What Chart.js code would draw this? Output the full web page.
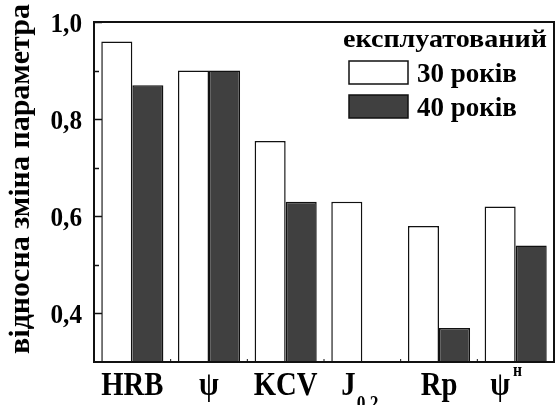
<!DOCTYPE html>
<html>
<head>
<meta charset="utf-8">
<script src="https://cdn.jsdelivr.net/npm/chart.js@4"></script>
<style>
  body { margin: 0; background: #fff; }
  canvas { display: block; }
</style>
</head>
<body>
<canvas id="chart" width="555" height="405"></canvas>
<script>
// data
const categories = ["HRB", "ψ", "KCV", "J", "Rp", "ψ"];
const catSub = ["", "", "", "0,2", "", ""];
const catSup = ["", "", "", "", "", "н"];
const years30 = [0.96, 0.90, 0.755, 0.63, 0.58, 0.62];
const years40 = [0.87, 0.90, 0.63, null, 0.37, 0.54];
const seriesNames = ["30 років", "40 років"];
const legendTitle = "експлуатований";
const yTitle = "відносна зміна параметра";
const yTicks = [0.4, 0.6, 0.8, 1.0];
const yMinorTicks = [0.5, 0.7, 0.9];

const FONT = "'Liberation Serif', 'Times New Roman', serif";
const DARK = "#404040";

// draw a bit of text squeezed along its own direction
function squeezed(ctx, str, x, y, size, sx, align) {
    ctx.save();
    ctx.font = "bold " + size + "px " + FONT;
    ctx.translate(x, y);
    ctx.scale(sx, 1);
    ctx.textAlign = align || "left";
    ctx.textBaseline = "alphabetic";
    ctx.fillText(str, 0, 0);
    ctx.restore();
}

function textW(ctx, str, size, sx) {
    ctx.save();
    ctx.font = "bold " + size + "px " + FONT;
    let w = ctx.measureText(str).width * sx;
    ctx.restore();
    return w;
}

const decorPlugin = {
    id: "decor",
    afterDraw(chart) {
        const ctx = chart.ctx;
        const area = chart.chartArea;
        const xs = chart.scales.x;
        const ys = chart.scales.y;
        ctx.save();
        ctx.fillStyle = "#000";
        ctx.strokeStyle = "#111";

        // frame
        ctx.lineWidth = 2;
        ctx.strokeRect(area.left, area.top, area.right - area.left, area.bottom - area.top);

        // y ticks, inside
        ctx.lineWidth = 1.5;
        yTicks.forEach(v => {
            let py = Math.round(ys.getPixelForValue(v)) + 0.5;
            ctx.beginPath();
            ctx.moveTo(area.left, py);
            ctx.lineTo(area.left + 8, py);
            ctx.stroke();
            squeezed(ctx, v.toFixed(1).replace(".", ","), area.left - 12, py + 9.5, 28, 0.9, "right");
        });
        yMinorTicks.forEach(v => {
            let py = Math.round(ys.getPixelForValue(v)) + 0.5;
            ctx.beginPath();
            ctx.moveTo(area.left, py);
            ctx.lineTo(area.left + 5, py);
            ctx.stroke();
        });

        // x ticks between groups
        ctx.lineWidth = 1;
        for (let i = 1; i < categories.length; i++) {
            let px = (xs.getPixelForValue(i - 1) + xs.getPixelForValue(i)) / 2;
            ctx.beginPath();
            ctx.moveTo(px, area.bottom);
            ctx.lineTo(px, area.bottom - 3);
            ctx.stroke();
        }

        // x labels with sub / superscripts
        categories.forEach((c, i) => {
            let cx = xs.getPixelForValue(i);
            let sx = 0.87;
            let wMain = textW(ctx, c, 33, sx);
            let wSub = catSub[i] ? textW(ctx, catSub[i], 20, sx) : 0;
            let wSup = catSup[i] ? textW(ctx, catSup[i], 18, sx) + 2 : 0;
            let x0 = cx - (wMain + Math.max(wSub, wSup)) / 2;
            if (catSup[i]) x0 -= 10;
            if (catSub[i]) x0 -= 3;
            squeezed(ctx, c, x0, 395, 33, sx);
            if (catSub[i]) squeezed(ctx, catSub[i], x0 + wMain + 1, 410, 20, sx);
            if (catSup[i]) squeezed(ctx, catSup[i], x0 + wMain + 3, 376, 18, sx);
        });

        // y title
        ctx.save();
        ctx.translate(29, 179);
        ctx.rotate(-Math.PI / 2);
        ctx.font = "bold 30px " + FONT;
        ctx.textAlign = "center";
        ctx.fillText(yTitle, 0, 0);
        ctx.restore();

        // legend
        squeezed(ctx, legendTitle, 343, 47, 26, 1.08, "left");
        chart.data.datasets.forEach((ds, i) => {
            let top = 61 + i * 34;
            ctx.fillStyle = ds.backgroundColor;
            ctx.fillRect(349, top, 59, 23);
            ctx.lineWidth = 1.5;
            ctx.strokeStyle = "#111";
            ctx.strokeRect(349, top, 59, 23);
            ctx.fillStyle = "#000";
            squeezed(ctx, ds.label, 417, top + 21, 27, 1, "left");
        });

        ctx.restore();
    }
};

new Chart(document.getElementById("chart"), {
    type: "bar",
    data: {
        labels: categories,
        datasets: [
            {
                label: seriesNames[0],
                data: years30,
                backgroundColor: "#ffffff",
                borderColor: "#111",
                borderWidth: 1.5
            },
            {
                label: seriesNames[1],
                data: years40,
                backgroundColor: DARK,
                borderColor: "#111",
                borderWidth: 1.5
            }
        ]
    },
    options: {
        responsive: false,
        animation: false,
        layout: { padding: { top: 22, right: 1, left: 0, bottom: 0 } },
        datasets: { bar: { categoryPercentage: 0.81, barPercentage: 1.0 } },
        plugins: {
            legend: { display: false },
            tooltip: { enabled: false }
        },
        scales: {
            x: {
                ticks: { display: false },
                grid: { display: false },
                border: { display: false },
                afterFit: s => { s.height = 43; }
            },
            y: {
                min: 0.3,
                max: 1.0,
                ticks: { display: false },
                grid: { display: false },
                border: { display: false },
                afterFit: s => { s.width = 94; }
            }
        }
    },
    plugins: [decorPlugin]
});
</script>
</body>
</html>
